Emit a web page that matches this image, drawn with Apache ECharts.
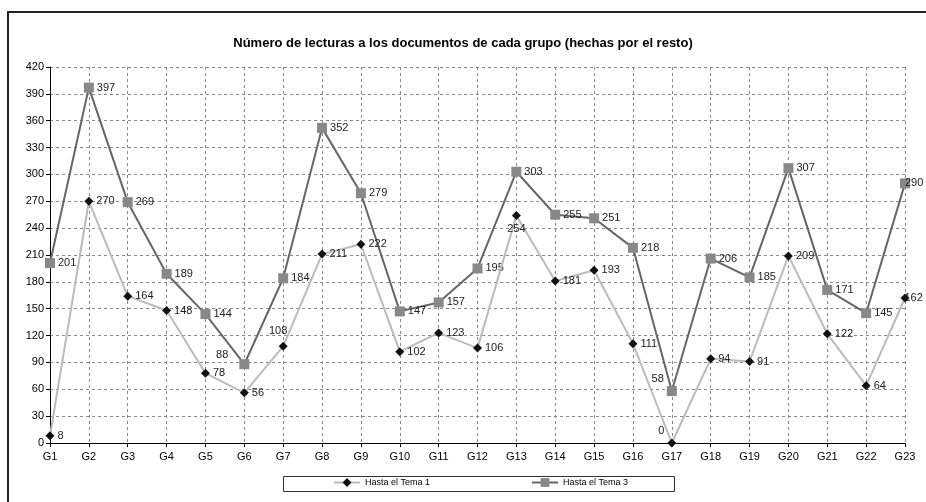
<!DOCTYPE html>
<html>
<head>
<meta charset="utf-8">
<script src="https://cdn.jsdelivr.net/npm/echarts@6/dist/echarts.min.js"></script>
<style>html,body{margin:0;padding:0;background:#fff}#c{width:926px;height:502px}</style>
</head>
<body>
<div id="c"></div>
<script>
const categories = ['G1','G2','G3','G4','G5','G6','G7','G8','G9','G10','G11','G12','G13','G14','G15','G16','G17','G18','G19','G20','G21','G22','G23'];
const tema1 = [8,270,164,148,78,56,108,211,222,102,123,106,254,181,193,111,0,94,91,209,122,64,162];
const tema3 = [201,397,269,189,144,88,184,352,279,147,157,195,303,255,251,218,58,206,185,307,171,145,290];
const yTicks = {min:0, max:420, interval:30};

// label placement overrides (index -> position)
const t1Pos = {6:'top', 12:'bottom', 16:'topLeft', 22:'tight'};
const t3Pos = {5:'topLeft2', 16:'topLeft', 22:'tight'};

function mk(vals, pos){
  return vals.map((v,i)=>{
    const p = pos[i];
    if(!p) return v;
    if(p==='topLeft') return {value:v, label:{position:'left', offset:[0,-12]}};
    if(p==='topLeft2') return {value:v, label:{position:'left', offset:[-8,-9]}};
    if(p==='top') return {value:v, label:{position:'top', offset:[-5,-2]}};
    if(p==='bottom') return {value:v, label:{position:'bottom', offset:[0,0]}};
    if(p==='tight') return {value:v, label:{position:'right', offset:[-8,0]}};
    return v;
  });
}

const chart = echarts.init(document.getElementById('c'));
const font = 'Liberation Sans, Arial, sans-serif';
chart.setOption({
  animation:false,
  textStyle:{fontFamily:font},
  title:{text:'Número de lecturas a los documentos de cada grupo (hechas por el resto)', left:'center', top:32,
    textStyle:{fontSize:13, fontWeight:'bold', color:'#000', fontFamily:font}},
  grid:{left:50, right:21, top:67, bottom:59, containLabel:false},
  graphic:[
    {type:'rect', shape:{x:8, y:12, width:940, height:520}, style:{fill:'none', stroke:'#222', lineWidth:2}, z:-1},
    {type:'rect', shape:{x:283.5, y:476.5, width:391, height:15}, style:{fill:'#fff', stroke:'#333', lineWidth:1}, z:-1}
  ],
  legend:{left:333, top:478, itemWidth:26, itemHeight:11, itemGap:101, padding:0,
    textStyle:{fontSize:9, color:'#000', fontFamily:font}},
  xAxis:{type:'category', data:categories, boundaryGap:false,
    axisLine:{lineStyle:{color:'#000', width:1}},
    axisTick:{show:true, alignWithLabel:true, length:4, lineStyle:{color:'#000'}},
    axisLabel:{color:'#000', fontSize:11, margin:8, interval:0},
    splitLine:{show:true, lineStyle:{color:'#888', type:[3,3], width:1}}},
  yAxis:{type:'value', min:yTicks.min, max:yTicks.max, interval:yTicks.interval,
    axisLine:{show:true, lineStyle:{color:'#000', width:1}},
    axisTick:{show:true, length:4, lineStyle:{color:'#000'}},
    axisLabel:{color:'#000', fontSize:11, margin:6},
    splitLine:{show:true, lineStyle:{color:'#888', type:[3,3], width:1}}},
  series:[
    {name:'Hasta el Tema 1', type:'line', data:mk(tema1,t1Pos), symbol:'diamond', symbolSize:9,
      lineStyle:{color:'#bbbbbb', width:2}, itemStyle:{color:'#111'},
      label:{show:true, position:'right', distance:3, color:'#222', fontSize:11, fontFamily:font}, z:3},
    {name:'Hasta el Tema 3', type:'line', data:mk(tema3,t3Pos), symbol:'rect', symbolSize:10,
      lineStyle:{color:'#666666', width:2}, itemStyle:{color:'#888888'},
      label:{show:true, position:'right', distance:3, color:'#222', fontSize:11, fontFamily:font}, z:2}
  ]
});
</script>
</body>
</html>
